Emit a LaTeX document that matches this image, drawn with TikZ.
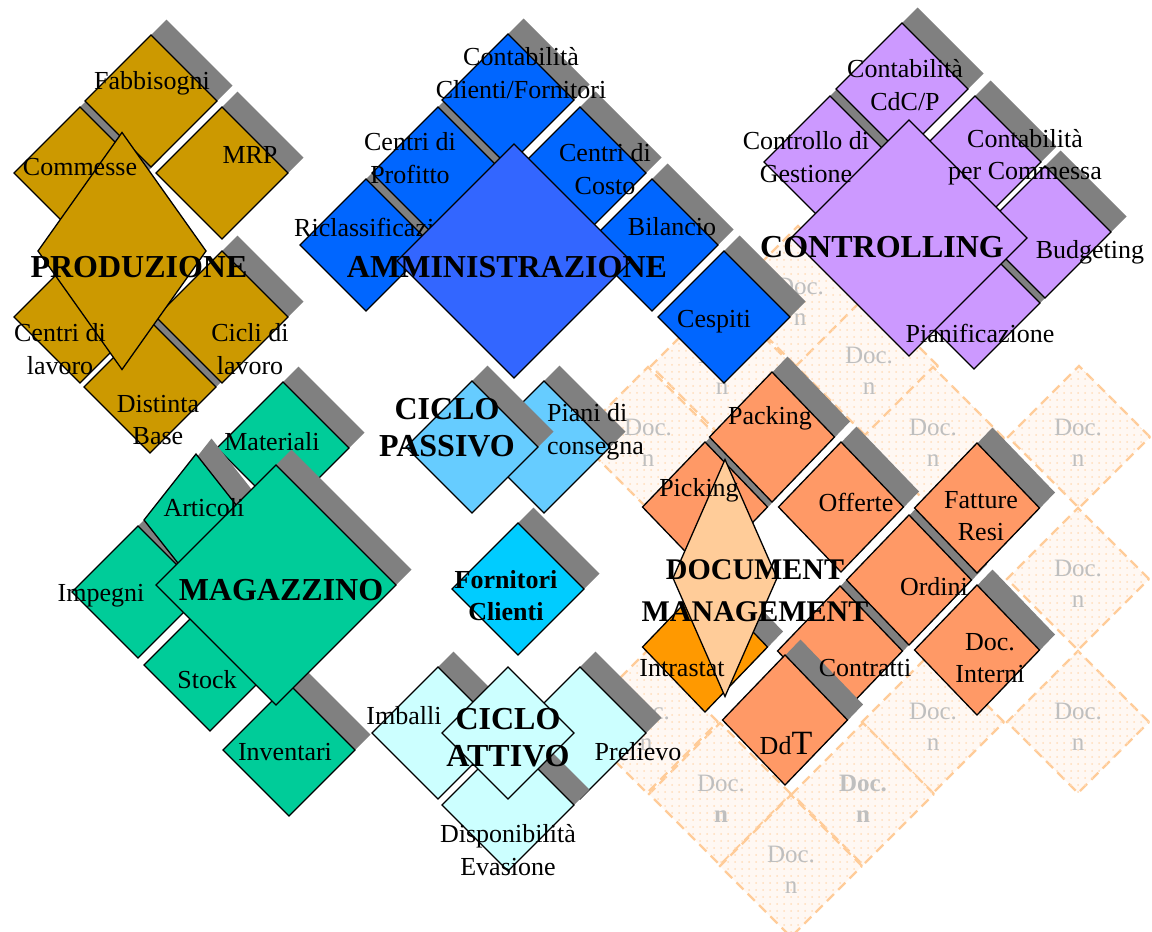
\documentclass[tikz,border=0pt]{standalone}
\usepackage{fontspec}
\setmainfont{Liberation Serif}
\usetikzlibrary{shapes.geometric,shadows,patterns.meta}
\definecolor{cgold}{HTML}{CC9900}
\definecolor{cblueS}{HTML}{0066FF}
\definecolor{cblueB}{HTML}{3366FF}
\definecolor{clilac}{HTML}{CC99FF}
\definecolor{cgreen}{HTML}{00CC99}
\definecolor{clblue}{HTML}{66CCFF}
\definecolor{ccyan}{HTML}{00CCFF}
\definecolor{cpcyan}{HTML}{CCFFFF}
\definecolor{csalmon}{HTML}{FF9966}
\definecolor{corange}{HTML}{FF9900}
\definecolor{cpeach}{HTML}{FFCC99}
\definecolor{cshadow}{HTML}{808080}
\definecolor{cghostline}{HTML}{FFCC99}
\definecolor{cghostfill}{HTML}{FFF8F3}
\definecolor{cghostdot}{HTML}{FFDDBB}
\definecolor{cghosttext}{HTML}{BFBFBF}
\tikzset{
  sq/.style={diamond, draw=black, line width=1.3pt, inner sep=0pt, outer sep=0pt,
    minimum width=132pt, minimum height=132pt},
  dmsq/.style={sq, fill=csalmon, minimum width=125pt, minimum height=130pt},
  sh/.style={general shadow={fill=cshadow, shadow xshift=15.5pt, shadow yshift=15.5pt}},
  lab/.style={inner sep=0pt, align=center, font=\fontsize{26}{32.5}\selectfont},
  blab/.style={inner sep=0pt, align=center, font=\bfseries\fontsize{32}{37}\selectfont},
  ghost/.style={diamond, draw=cghostline, line width=2.2pt, dash pattern=on 10pt off 6pt,
    fill=cghostfill, postaction={pattern={Dots[distance=7pt, radius=1pt]}, pattern color=cghostdot},
    inner sep=0pt, outer sep=0pt, minimum width=142pt, minimum height=142pt},
  gtext/.style={inner sep=0pt, align=center, text=cghosttext, font=\fontsize{25}{31}\selectfont},
}
\begin{document}
\begin{tikzpicture}[x=1pt,y=-1pt]
\useasboundingbox (0,0) rectangle (1152,932);

% ---------- ghost documents ----------
\node[ghost] (g1) at (798,297) {};
\node[ghost] (g2) at (867,366) {};
\node[ghost] (g3) at (722,366) {};
\node[ghost] (g4) at (648,438) {};
\node[ghost] (g5) at (933,438) {};
\node[ghost] (g6) at (1079,437) {};
\node[ghost] (g7) at (1078,579) {};
\node[ghost] (g8) at (933,722) {};
\node[ghost] (g9) at (1078,722) {};
\node[ghost] (g10) at (720,794) {};
\node[ghost] (g11) at (863,794) {};
\node[ghost] (g12) at (791,866) {};
\node[ghost] (g13) at (647,722) {};
\node[gtext] (g1t) at (800,302) {Doc.\\n};
\node[gtext] (g2t) at (869,371) {Doc.\\n};
\node[gtext] (g3t) at (722,371) {Doc.\\n};
\node[gtext] (g4t) at (648,443) {Doc.\\n};
\node[gtext] (g5t) at (933,443) {Doc.\\n};
\node[gtext] (g6t) at (1078,443) {Doc.\\n};
\node[gtext] (g7t) at (1078,584) {Doc.\\n};
\node[gtext] (g8t) at (933,727) {Doc.\\n};
\node[gtext] (g9t) at (1078,727) {Doc.\\n};
\node[gtext] (g10t) at (721,799) {Doc.\\\textbf{n}};
\node[gtext] (g11t) at (863,799) {\textbf{Doc.}\\\textbf{n}};
\node[gtext] (g12t) at (791,870) {Doc.\\n};
\node[gtext] (g13t) at (646,727) {Doc.\\n};

% ---------- PRODUZIONE ----------
\node[sq, sh, fill=cgold] (commesse) at (80,173) {};
\node[sq, sh, fill=cgold] (fabb) at (151,101) {};
\node[sq, sh, fill=cgold] (mrp) at (222,173) {};
\node[sq, sh, fill=cgold] (clav) at (80,317) {};
\node[sq, sh, fill=cgold] (distinta) at (150,387) {};
\node[sq, sh, fill=cgold] (cicli) at (222,317) {};
\node[sq, fill=cgold, minimum width=168pt, minimum height=237pt] (prod) at (122,251) {};
\node[lab] (fabbt) at (152,83) {Fabbisogni};
\node[lab] (mrpt) at (250,155) {MRP};
\node[lab] (commt) at (80,167) {Commesse};
\node[lab] (clavt) at (60,349) {Centri di\\lavoro};
\node[lab] (ciclit) at (250,349) {Cicli di\\lavoro};
\node[lab] (distt) at (158,420) {Distinta\\Base};
\node[blab] (prodt) at (139,267) {PRODUZIONE};

% ---------- AMMINISTRAZIONE ----------
\node[sq, sh, fill=cblueS] (ricl) at (366,245) {};
\node[sq, sh, fill=cblueS] (profitto) at (438,173) {};
\node[sq, sh, fill=cblueS] (contcf) at (508,100) {};
\node[sq, sh, fill=cblueS] (costo) at (580,173) {};
\node[sq, sh, fill=cblueS] (bilancio) at (652,245) {};
\node[sq, sh, fill=cblueS] (cespiti) at (724,317) {};
\node[lab, anchor=west] (riclt) at (294,227) {Riclassificazione};
\node[sq, fill=cblueB, minimum width=234pt, minimum height=234pt] (amm) at (514,261) {};
\node[lab] (contcft) at (521,73) {Contabilità\\Clienti/Fornitori};
\node[lab] (profittot) at (410,158) {Centri di\\Profitto};
\node[lab] (costot) at (605,169) {Centri di\\Costo};
\node[lab] (bilanciot) at (672,227) {Bilancio};
\node[lab] (cespitit) at (714,322) {Cespiti};
\node[blab] (ammt) at (507,267) {AMMINISTRAZIONE};

% ---------- CONTROLLING ----------
\node[sq, sh, fill=clilac] (controllo) at (830,162) {};
\node[sq, sh, fill=clilac] (cdcp) at (902,89) {};
\node[sq, sh, fill=clilac] (pianif) at (974,303) {};
\node[sq, sh, fill=clilac] (commessa) at (975,162) {};
\node[sq, sh, fill=clilac] (budget) at (1045,232) {};
\node[sq, fill=clilac, minimum width=236pt, minimum height=236pt] (ctrl) at (909,238) {};
\node[lab] (cdcpt) at (905,85) {Contabilità\\CdC/P};
\node[lab] (controllot) at (806,157) {Controllo di\\Gestione};
\node[lab] (commessat) at (1025,157) {Contabilità\\per Commessa};
\node[lab] (budgett) at (1090,252) {Budgeting};
\node[lab] (pianift) at (980,333) {Pianificazione};
\node[blab] (ctrlt) at (882,247) {CONTROLLING};

% ---------- MAGAZZINO ----------
\node[sq, sh, fill=cgreen] (materiali) at (283,448) {};
\node[sq, sh, fill=cgreen] (impegni) at (138,592) {};
\node[sq, sh, fill=cgreen, minimum width=104pt, minimum height=132pt] (articoli) at (196,520) {};
\node[sq, sh, fill=cgreen] (stock) at (210,665) {};
\node[sq, sh, fill=cgreen] (inventari) at (289,750) {};
\node[sq, sh, fill=cgreen, minimum width=240pt, minimum height=240pt] (mag) at (276,585) {};
\node[lab] (materialit) at (272,442) {Materiali};
\node[lab] (articolit) at (204,508) {Articoli};
\node[lab] (impegnit) at (101,596) {Impegni};
\node[lab] (stockt) at (207,680) {Stock};
\node[lab] (inventarit) at (285,752) {Inventari};
\node[blab] (magt) at (281,590) {MAGAZZINO};

% ---------- CICLO PASSIVO ----------
\node[sq, sh, fill=clblue] (piani) at (544,447) {};
\node[sq, sh, fill=clblue] (cp) at (472,447) {};
\node[blab] (cpt) at (447,428) {CICLO\\PASSIVO};
\node[lab, anchor=west, align=left] (pianit) at (547,432) {Piani di\\consegna};

% ---------- FORNITORI CLIENTI ----------
\node[sq, sh, fill=ccyan] (forn) at (518,589) {};
\node[inner sep=0pt, align=center, font=\bfseries\fontsize{26}{32}\selectfont] (fornt) at (506,596) {Fornitori\\Clienti};

% ---------- CICLO ATTIVO ----------
\node[sq, sh, fill=cpcyan] (imballi) at (438,733) {};
\node[sq, sh, fill=cpcyan] (prelievo) at (580,733) {};
\node[sq, sh, fill=cpcyan] (dispon) at (508,805) {};
\node[sq, fill=cpcyan] (ca) at (508,733) {};
\node[lab] (imballit) at (404,716) {Imballi};
\node[lab] (prelievot) at (638,752) {Prelievo};
\node[lab] (dispont) at (508,850) {Disponibilità\\Evasione};
\node[blab] (cat) at (508,738) {CICLO\\ATTIVO};

% ---------- DOCUMENT MANAGEMENT ----------
\node[dmsq, sh] (picking) at (705,507) {};
\node[dmsq, sh] (packing) at (772,437) {};
\node[dmsq, sh] (offerte) at (841,507) {};
\node[dmsq, sh] (contratti) at (840,651) {};
\node[dmsq, sh] (ordini) at (909,580) {};
\node[dmsq, sh] (fatture) at (977,508) {};
\node[dmsq, sh] (docint) at (977,650) {};
\node[dmsq, sh, fill=corange] (intrastat) at (705,647) {};
\node[dmsq, sh] (ddt) at (785,720) {};
\node[sq, fill=cpeach, minimum width=104pt, minimum height=237pt] (dm) at (725,578) {};
\node[lab] (packingt) at (770,418) {Packing};
\node[lab] (pickingt) at (699,490) {Picking};
\node[lab] (offertet) at (856,502) {Offerte};
\node[lab] (fatturet) at (981,516) {Fatture\\Resi};
\node[lab] (ordinit) at (934,587) {Ordini};
\node[lab] (contrattit) at (865,668) {Contratti};
\node[lab] (docintt) at (990,658) {Doc.\\Interni};
\node[lab] (intrastatt) at (682,668) {Intrastat};
\node[lab] (ddtt) at (786,743) {Dd{\fontsize{34}{34}\selectfont T}};
\node[inner sep=0pt, align=center, font=\bfseries\fontsize{30}{42}\selectfont] (dmt) at (755,591) {DOCUMENT\\MANAGEMENT};
\end{tikzpicture}
\end{document}
